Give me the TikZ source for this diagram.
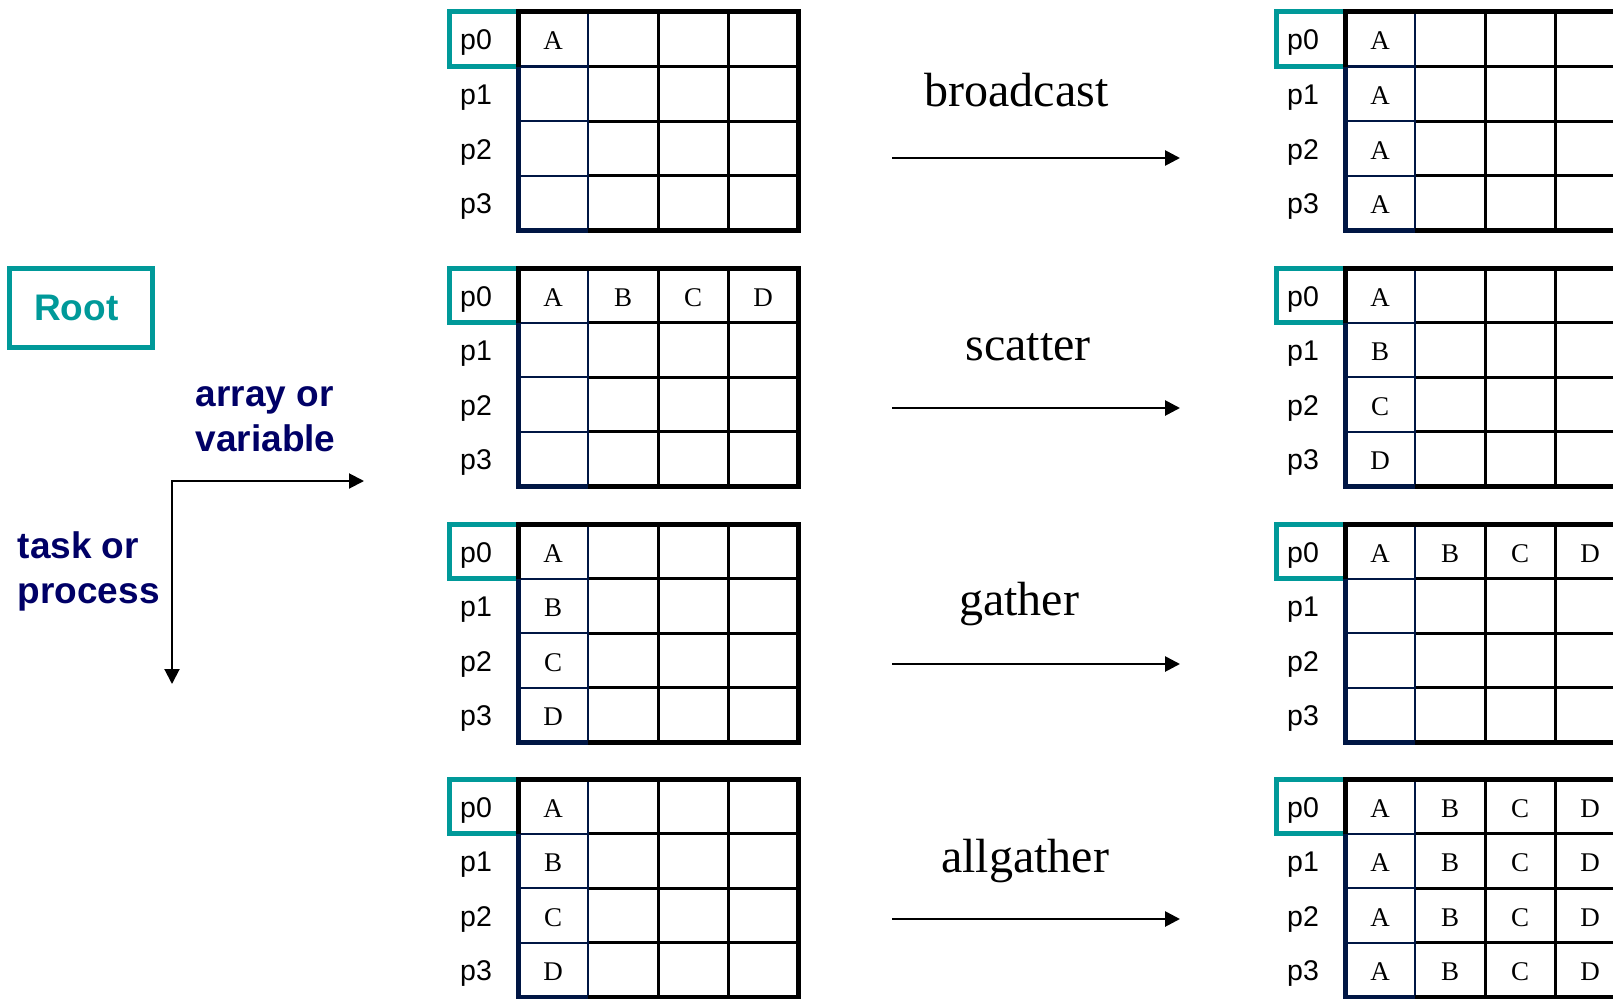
\documentclass[tikz,border=0pt]{standalone}
\usepackage{fontspec}
\setmainfont{Liberation Serif}
\newfontfamily\arialf{Liberation Sans}
\usetikzlibrary{arrows.meta}
\definecolor{tealc}{RGB}{0,153,153}
\definecolor{navyt}{RGB}{0,0,102}
\definecolor{navyg}{RGB}{0,22,68}
\tikzset{
 outerline/.style={line width=5pt,black},
 innerline/.style={line width=3pt,black},
 navythin/.style={line width=2pt,navyg},
 navythick/.style={line width=5pt,navyg},
 tealbox/.style={line width=5pt,tealc},
 plabel/.style={font=\arialf\fontsize{28.5pt}{32pt}\selectfont,anchor=base,inner sep=0pt},
 cellt/.style={font=\fontsize{27pt}{30pt}\selectfont,anchor=base,inner sep=0pt},
 optext/.style={font=\fontsize{48pt}{56pt}\selectfont,anchor=base,inner sep=0pt},
 oparrow/.style={line width=2.7pt,-{Triangle[length=15pt,width=15pt]}},
 axisarrow/.style={line width=2pt,{Triangle[length=15pt,width=15pt]}-{Triangle[length=15pt,width=15pt]}},
 axtext/.style={font=\arialf\bfseries\fontsize{37pt}{45pt}\selectfont,text=navyt,anchor=base west,inner sep=0pt},
 rootbox/.style={draw=tealc,line width=5pt,text=tealc,font=\arialf\bfseries\fontsize{37pt}{45pt}\selectfont,minimum width=143.5pt,minimum height=78.5pt,inner sep=0pt},
}
\newcommand{\mpigrid}[3]{%
 \begin{scope}[shift={(#1,#2)}]
  \draw[tealbox] (-69,0) rectangle (0,54.5);
  \foreach \ri in {1,2,3} \draw[innerline] (70,\ri*54.5) -- (280,\ri*54.5);
  \foreach \ci in {2,3} \draw[innerline] (\ci*70,0) -- (\ci*70,218);
  \foreach \ri in {1,2,3} \draw[navythin] (0,\ri*54.5) -- (70,\ri*54.5);
  \draw[navythin] (70,0) -- (70,218);
  \draw[outerline] (0,54.5) -- (0,0) -- (280,0) -- (280,218) -- (70,218);
  \draw[navythick] (0,54.5) -- (0,218) -- (70,218);
  \foreach \ri in {0,...,3} {
    \node[plabel] (#3p\ri) at (-42,\ri*54.5+38) {p\ri};
    \foreach \ci in {0,...,3} \coordinate (#3-\ci-\ri) at (35+70*\ci,\ri*54.5+38);
  }
 \end{scope}}
\begin{document}
\begin{tikzpicture}[x=1pt,y=-1pt]
\useasboundingbox (0,0) rectangle (1613,998);
\clip (0,0) rectangle (1613,998);
% grids
\mpigrid{518}{12}{L1}
\mpigrid{518}{268}{L2}
\mpigrid{518}{524}{L3}
\mpigrid{518}{779}{L4}
\mpigrid{1345}{12}{R1}
\mpigrid{1345}{268}{R2}
\mpigrid{1345}{524}{R3}
\mpigrid{1345}{779}{R4}
% broadcast
\node[cellt] (L1a) at (L1-0-0) {A};
\foreach \ri in {0,...,3} \node[cellt] (R1a\ri) at (R1-0-\ri) {A};
% scatter
\foreach \ci/\lt in {0/A,1/B,2/C,3/D} \node[cellt] (L2t\ci) at (L2-\ci-0) {\lt};
\foreach \ri/\lt in {0/A,1/B,2/C,3/D} \node[cellt] (R2t\ri) at (R2-0-\ri) {\lt};
% gather
\foreach \ri/\lt in {0/A,1/B,2/C,3/D} \node[cellt] (L3t\ri) at (L3-0-\ri) {\lt};
\foreach \ci/\lt in {0/A,1/B,2/C,3/D} \node[cellt] (R3t\ci) at (R3-\ci-0) {\lt};
% allgather
\foreach \ri/\lt in {0/A,1/B,2/C,3/D} \node[cellt] (L4t\ri) at (L4-0-\ri) {\lt};
\foreach \ri in {0,...,3} \foreach \ci/\lt in {0/A,1/B,2/C,3/D} \node[cellt] (R4t\ci\ri) at (R4-\ci-\ri) {\lt};
% operation labels and arrows
\node[optext] (opb) at (1016.5,106) {broadcast};
\node[optext] (ops) at (1028,360) {scatter};
\node[optext] (opg) at (1019,615) {gather};
\node[optext] (opa) at (1025,872) {allgather};
\coordinate (a1s) at (892,158);  \coordinate (a1e) at (1180,158);
\coordinate (a2s) at (892,408);  \coordinate (a2e) at (1180,408);
\coordinate (a3s) at (892,664);  \coordinate (a3e) at (1180,664);
\coordinate (a4s) at (892,919);  \coordinate (a4e) at (1180,919);
\draw[oparrow] (a1s) -- (a1e);
\draw[oparrow] (a2s) -- (a2e);
\draw[oparrow] (a3s) -- (a3e);
\draw[oparrow] (a4s) -- (a4e);
% legend
\node[rootbox] (root) at (80.75,307.75) {Root\hspace*{9pt}};
\node[axtext] (arr1) at (195.5,406.7) {array or};
\node[axtext] (arr2) at (195.5,451.7) {variable};
\node[axtext] (task1) at (17.5,558.3) {task or};
\node[axtext] (task2) at (17.5,603.3) {process};
\coordinate (axo) at (172,481);
\coordinate (axr) at (364,481);
\coordinate (axd) at (172,684);
\draw[axisarrow] (axr) -- (axo) -- (axd);
\end{tikzpicture}
\end{document}
